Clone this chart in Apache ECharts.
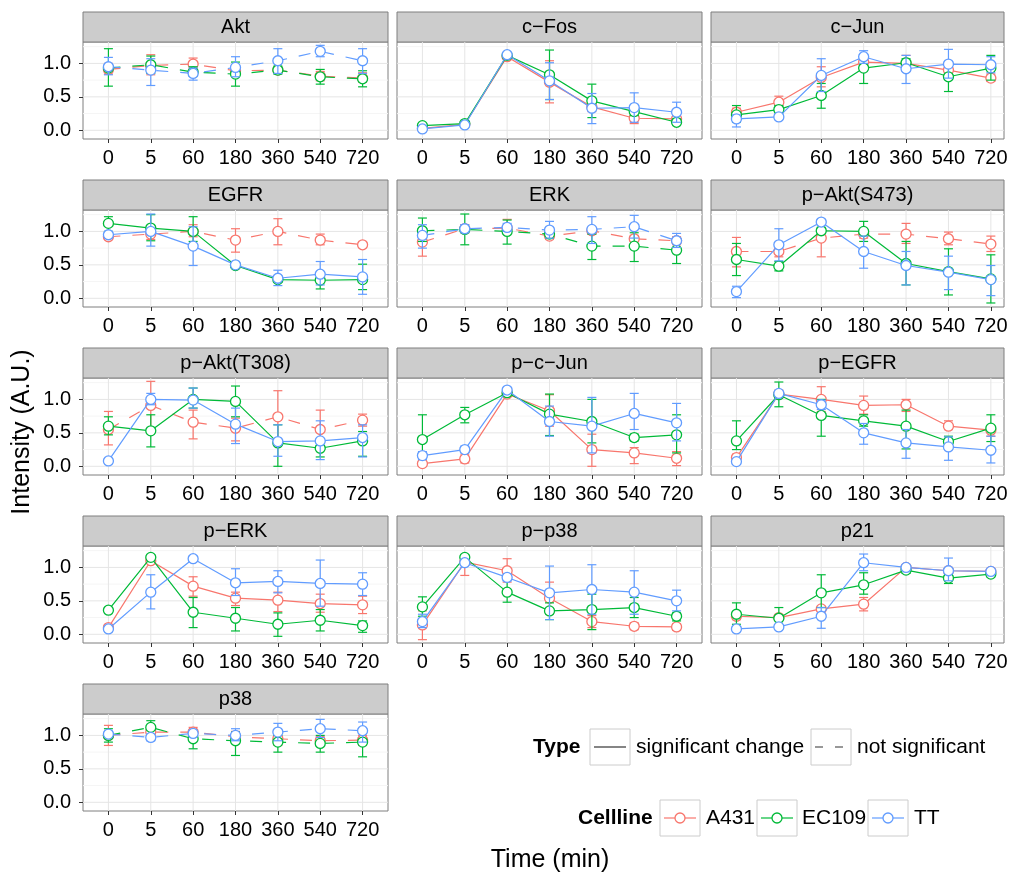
<!DOCTYPE html>
<html>
<head>
<meta charset="utf-8">
<script src="https://cdn.jsdelivr.net/npm/echarts@6/dist/echarts.min.js"></script>
<style>
html, body { margin: 0; padding: 0; background: #fff; }
#main { width: 1011px; height: 877px; }
</style>
</head>
<body>
<div id="main"></div>
<script>
var times = ['0', '5', '60', '180', '360', '540', '720'];
var cellLines = ['A431', 'EC109', 'TT'];
var colors = ['#F8766D', '#00BA38', '#619CFF'];
var proteins = ['Akt', 'c−Fos', 'c−Jun', 'EGFR', 'ERK', 'p−Akt(S473)', 'p−Akt(T308)',
    'p−c−Jun', 'p−EGFR', 'p−ERK', 'p−p38', 'p21', 'p38'];
var yTicks = [0, 0.5, 1];
var yMinor = [0.25, 0.75, 1.25];

// rows: A431, EC109, TT
var aktMean = [[0.91, 0.97, 0.99, 0.89, 0.90, 0.81, 0.78], [0.93, 0.98, 0.87, 0.84, 0.90, 0.80, 0.77], [0.95, 0.90, 0.85, 0.94, 1.04, 1.18, 1.04]];
var aktLow = [[0.84, 0.83, 0.93, 0.84, 0.86, 0.74, 0.72], [0.66, 0.85, 0.81, 0.66, 0.84, 0.69, 0.65], [0.83, 0.67, 0.75, 0.80, 0.85, 1.10, 0.85]];
var aktHigh = [[1.00, 1.13, 1.08, 0.96, 0.94, 0.88, 0.86], [1.22, 1.11, 0.95, 1.02, 0.96, 0.91, 0.89], [1.09, 1.07, 0.93, 1.10, 1.22, 1.27, 1.22]];

var cfosMean = [[0.03, 0.09, 1.10, 0.72, 0.35, 0.18, 0.17], [0.07, 0.10, 1.12, 0.83, 0.44, 0.28, 0.12], [0.02, 0.08, 1.13, 0.74, 0.33, 0.34, 0.27]];
var cfosLow = [[0.00, 0.06, 1.07, 0.41, 0.28, 0.10, 0.12], [0.04, 0.07, 1.09, 0.46, 0.19, 0.22, 0.08], [0.00, 0.05, 1.10, 0.46, 0.10, 0.12, 0.12]];
var cfosHigh = [[0.06, 0.12, 1.13, 1.04, 0.42, 0.25, 0.22], [0.10, 0.13, 1.15, 1.20, 0.69, 0.34, 0.17], [0.05, 0.11, 1.16, 1.01, 0.55, 0.56, 0.42]];

var cjunMean = [[0.27, 0.42, 0.79, 1.02, 1.00, 0.90, 0.78], [0.23, 0.31, 0.52, 0.93, 1.01, 0.80, 0.93], [0.17, 0.20, 0.82, 1.10, 0.92, 0.99, 0.98]];
var cjunLow = [[0.22, 0.36, 0.65, 0.96, 0.88, 0.85, 0.73], [0.12, 0.26, 0.33, 0.70, 0.95, 0.58, 0.75], [0.05, 0.16, 0.58, 1.00, 0.70, 0.78, 0.86]];
var cjunHigh = [[0.33, 0.51, 0.95, 1.08, 1.12, 0.96, 0.84], [0.37, 0.37, 0.70, 1.08, 1.07, 1.00, 1.12], [0.23, 0.24, 1.07, 1.19, 1.12, 1.21, 1.10]];

var egfrMean = [[0.92, 0.96, 1.00, 0.87, 1.00, 0.87, 0.80], [1.12, 1.05, 1.00, 0.49, 0.28, 0.27, 0.28], [0.95, 1.00, 0.78, 0.50, 0.30, 0.36, 0.32]];
var egfrLow = [[0.88, 0.88, 0.92, 0.69, 0.80, 0.80, 0.76], [1.00, 0.86, 0.85, 0.46, 0.24, 0.14, 0.13], [0.90, 0.78, 0.49, 0.46, 0.19, 0.20, 0.06]];
var egfrHigh = [[0.97, 1.03, 1.10, 1.04, 1.19, 0.96, 0.84], [1.22, 1.25, 1.22, 0.53, 0.33, 0.34, 0.51], [1.00, 1.26, 1.07, 0.54, 0.42, 0.55, 0.58]];

var erkMean = [[0.84, 1.04, 1.05, 0.93, 1.01, 0.89, 0.86], [1.01, 1.03, 1.00, 0.96, 0.78, 0.78, 0.72], [0.94, 1.04, 1.06, 1.02, 1.03, 1.07, 0.86]];
var erkLow = [[0.63, 0.98, 0.98, 0.88, 0.96, 0.85, 0.80], [0.85, 0.80, 0.81, 0.90, 0.58, 0.55, 0.52], [0.75, 0.98, 1.00, 0.90, 0.82, 0.90, 0.76]];
var erkHigh = [[1.00, 1.10, 1.18, 0.98, 1.06, 0.94, 0.92], [1.20, 1.26, 1.17, 1.02, 0.96, 0.98, 0.90], [1.10, 1.10, 1.12, 1.15, 1.22, 1.24, 0.97]];

var s473Mean = [[0.70, 0.70, 0.90, 0.96, 0.96, 0.89, 0.81], [0.58, 0.48, 1.01, 1.00, 0.52, 0.40, 0.29], [0.10, 0.80, 1.14, 0.70, 0.49, 0.39, 0.28]];
var s473Low = [[0.47, 0.62, 0.62, 0.90, 0.82, 0.80, 0.70], [0.34, 0.41, 0.97, 0.85, 0.20, 0.05, -0.07], [0.01, 0.56, 1.10, 0.45, 0.20, 0.13, 0.04]];
var s473High = [[0.91, 0.78, 1.10, 1.02, 1.12, 0.99, 0.93], [0.82, 0.55, 1.06, 1.15, 0.85, 0.74, 0.65], [0.18, 1.04, 1.18, 0.93, 0.70, 0.63, 0.49]];

var t308Mean = [[0.55, 0.91, 0.66, 0.57, 0.74, 0.55, 0.69], [0.60, 0.53, 1.00, 0.97, 0.35, 0.27, 0.38], [0.08, 1.00, 0.99, 0.63, 0.37, 0.38, 0.43]];
var t308Low = [[0.32, 0.55, 0.41, 0.38, 0.35, 0.30, 0.60], [0.47, 0.29, 0.87, 0.74, 0.00, 0.14, 0.15], [0.06, 0.92, 0.87, 0.34, 0.15, 0.10, 0.14]];
var t308High = [[0.82, 1.27, 0.84, 0.72, 1.13, 0.84, 0.78], [0.74, 0.77, 1.17, 1.20, 0.62, 0.40, 0.52], [0.10, 1.09, 1.17, 0.87, 0.62, 0.68, 0.62]];

var pcjunMean = [[0.04, 0.11, 1.08, 0.83, 0.25, 0.20, 0.12], [0.40, 0.77, 1.10, 0.78, 0.67, 0.43, 0.47], [0.16, 0.25, 1.14, 0.67, 0.60, 0.79, 0.65]];
var pcjunLow = [[0.00, 0.05, 1.05, 0.60, 0.00, 0.04, 0.01], [0.20, 0.65, 1.07, 0.46, 0.35, 0.38, 0.20], [0.10, 0.20, 1.11, 0.45, 0.20, 0.55, 0.38]];
var pcjunHigh = [[0.08, 0.17, 1.11, 1.07, 0.48, 0.28, 0.22], [0.77, 0.88, 1.13, 1.08, 1.00, 0.48, 0.77], [0.22, 0.30, 1.17, 0.90, 1.03, 1.09, 0.94]];

var pegfrMean = [[0.13, 1.08, 1.00, 0.91, 0.92, 0.60, 0.54], [0.38, 1.07, 0.76, 0.68, 0.60, 0.37, 0.57], [0.07, 1.09, 0.92, 0.50, 0.35, 0.29, 0.24]];
var pegfrLow = [[0.09, 1.02, 0.82, 0.78, 0.82, 0.55, 0.45], [0.25, 0.89, 0.45, 0.60, 0.26, 0.30, 0.37], [0.03, 1.05, 0.85, 0.33, 0.12, 0.09, 0.05]];
var pegfrHigh = [[0.18, 1.14, 1.19, 1.05, 1.00, 0.68, 0.60], [0.68, 1.26, 1.00, 0.77, 0.84, 0.45, 0.77], [0.11, 1.13, 0.99, 0.64, 0.55, 0.44, 0.45]];

var perkMean = [[0.10, 1.10, 0.72, 0.54, 0.51, 0.46, 0.44], [0.36, 1.15, 0.33, 0.24, 0.15, 0.21, 0.13], [0.08, 0.63, 1.13, 0.77, 0.79, 0.76, 0.75]];
var perkLow = [[0.06, 1.06, 0.57, 0.43, 0.34, 0.33, 0.31], [0.32, 1.11, 0.10, 0.05, -0.03, 0.05, 0.03], [0.04, 0.38, 1.09, 0.58, 0.62, 0.42, 0.58]];
var perkHigh = [[0.14, 1.14, 0.86, 0.63, 0.63, 0.60, 0.57], [0.40, 1.19, 0.55, 0.40, 0.32, 0.37, 0.20], [0.12, 0.89, 1.17, 0.98, 0.95, 1.11, 0.92]];

var pp38Mean = [[0.14, 1.08, 0.95, 0.54, 0.19, 0.12, 0.11], [0.41, 1.15, 0.63, 0.35, 0.37, 0.40, 0.27], [0.19, 1.07, 0.85, 0.62, 0.67, 0.63, 0.50]];
var pp38Low = [[-0.08, 0.88, 0.78, 0.30, 0.10, 0.07, 0.06], [0.27, 1.11, 0.48, 0.22, 0.07, 0.25, 0.20], [0.10, 1.03, 0.80, 0.22, 0.30, 0.30, 0.35]];
var pp38High = [[0.35, 1.15, 1.13, 0.78, 0.28, 0.17, 0.16], [0.56, 1.19, 0.85, 0.47, 0.60, 0.55, 0.32], [0.30, 1.11, 0.90, 1.02, 1.04, 0.95, 0.66]];

var p21Mean = [[0.27, 0.25, 0.38, 0.45, 1.00, 0.95, 0.94], [0.30, 0.24, 0.62, 0.74, 0.96, 0.84, 0.90], [0.08, 0.11, 0.27, 1.07, 1.00, 0.95, 0.94]];
var p21Low = [[0.22, 0.21, 0.34, 0.35, 0.96, 0.91, 0.90], [0.15, 0.10, 0.40, 0.60, 0.91, 0.76, 0.86], [0.05, 0.08, 0.09, 0.95, 0.97, 0.80, 0.91]];
var p21High = [[0.32, 0.29, 0.42, 0.55, 1.04, 0.99, 0.98], [0.47, 0.40, 0.89, 0.92, 1.01, 0.90, 0.94], [0.11, 0.14, 0.40, 1.20, 1.03, 1.14, 0.97]];

var p38Mean = [[1.00, 1.05, 1.05, 0.98, 0.95, 0.92, 0.93], [1.00, 1.12, 0.95, 0.92, 0.90, 0.88, 0.90], [1.02, 0.97, 1.03, 1.00, 1.05, 1.10, 1.07]];
var p38Low = [[0.85, 0.95, 0.95, 0.90, 0.85, 0.85, 0.85], [0.90, 1.00, 0.80, 0.70, 0.75, 0.75, 0.68], [0.98, 0.92, 0.98, 0.92, 0.92, 0.97, 0.90]];
var p38High = [[1.15, 1.15, 1.12, 1.06, 1.05, 0.98, 1.00], [1.10, 1.22, 1.05, 1.05, 1.00, 1.00, 1.05], [1.06, 1.02, 1.08, 1.10, 1.18, 1.24, 1.20]];

// significant change = solid, not significant = dashed (A431, EC109, TT)
var lineTypes = [
    ['dashed', 'dashed', 'dashed'],
    ['solid', 'solid', 'solid'],
    ['solid', 'solid', 'solid'],
    ['dashed', 'solid', 'solid'],
    ['dashed', 'dashed', 'dashed'],
    ['dashed', 'solid', 'solid'],
    ['dashed', 'solid', 'solid'],
    ['solid', 'solid', 'solid'],
    ['solid', 'solid', 'solid'],
    ['solid', 'solid', 'solid'],
    ['solid', 'solid', 'solid'],
    ['solid', 'solid', 'solid'],
    ['dashed', 'dashed', 'dashed']
];

var means = [aktMean, cfosMean, cjunMean, egfrMean, erkMean, s473Mean, t308Mean, pcjunMean, pegfrMean, perkMean, pp38Mean, p21Mean, p38Mean];
var lows = [aktLow, cfosLow, cjunLow, egfrLow, erkLow, s473Low, t308Low, pcjunLow, pegfrLow, perkLow, pp38Low, p21Low, p38Low];
var highs = [aktHigh, cfosHigh, cjunHigh, egfrHigh, erkHigh, s473High, t308High, pcjunHigh, pegfrHigh, perkHigh, pp38High, p21High, p38High];

var FONT = '"Liberation Sans", Arial, Helvetica, sans-serif';
var yMin = -0.13, yMax = 1.32, xMin = -0.6;
var colLeft = [83, 397, 711];
var colWidth = [305, 305, 293];
var colXMax = [6.6, 6.6, 6.31];
var dashPattern = [12, 12];
var tickFont = 20;

var grids = [], xAxes = [], yAxes = [], series = [], graphics = [];

proteins.forEach(function (name, p) {
    var r = Math.floor(p / 3), c = p % 3;
    var left = colLeft[c], top = 42 + 168 * r, w = colWidth[c], h = 97;
    var xMax = colXMax[c];
    grids.push({
        left: left, top: top, width: w, height: h,
        show: true, backgroundColor: '#fff', borderColor: '#7F7F7F', borderWidth: 1
    });
    xAxes.push({
        gridIndex: p, type: 'value', min: xMin, max: xMax,
        axisLine: { show: false, onZero: false },
        splitLine: { show: false },
        axisTick: { show: true, customValues: [0, 1, 2, 3, 4, 5, 6], length: 4, lineStyle: { color: '#333', width: 1 } },
        axisLabel: {
            customValues: [0, 1, 2, 3, 4, 5, 6], margin: 9, fontSize: tickFont, color: '#000', fontFamily: FONT,
            formatter: function (v) { return times[Math.round(v)]; }
        }
    });
    yAxes.push({
        gridIndex: p, type: 'value', min: yMin, max: yMax,
        axisLine: { show: false, onZero: false },
        splitLine: { show: false },
        axisTick: { show: c === 0, customValues: yTicks, length: 4, lineStyle: { color: '#333', width: 1 } },
        axisLabel: {
            show: c === 0,
            customValues: yTicks, margin: 12, fontSize: tickFont, color: '#000', fontFamily: FONT,
            formatter: function (v) { return v.toFixed(1); }
        }
    });

    // panel grid lines
    var gl = [];
    yMinor.forEach(function (v) { gl.push([0, v, 2]); });
    yTicks.forEach(function (v) { gl.push([0, v, 1]); });
    times.forEach(function (t, i) { gl.push([i, 0, 0]); });
    series.push({
        type: 'custom', xAxisIndex: p, yAxisIndex: p, silent: true, z: 1,
        data: gl, encode: { x: 0, y: 1 },
        renderItem: (function (xm) {
            return function (params, api) {
                var kind = api.value(2), a, b;
                if (kind === 0) {
                    a = api.coord([api.value(0), yMin]); b = api.coord([api.value(0), yMax]);
                } else {
                    a = api.coord([xMin, api.value(1)]); b = api.coord([xm, api.value(1)]);
                }
                return {
                    type: 'line', shape: { x1: a[0], y1: a[1], x2: b[0], y2: b[1] },
                    style: { stroke: kind === 2 ? '#F5F5F5' : '#E5E5E5', lineWidth: 1 }
                };
            };
        })(xMax)
    });

    cellLines.forEach(function (cl, k) {
        var err = times.map(function (t, i) { return [i, lows[p][k][i], highs[p][k][i]]; });
        series.push({
            type: 'custom', name: cl, xAxisIndex: p, yAxisIndex: p, silent: true, z: 2 + k * 2,
            data: err, encode: { x: 0, y: [1, 2] },
            renderItem: (function (col) {
                return function (params, api) {
                    var x = api.value(0);
                    var t = api.coord([x, api.value(2)]);
                    var b = api.coord([x, api.value(1)]);
                    var hw = 4.5;
                    var st = { stroke: col, lineWidth: 1.2 };
                    return {
                        type: 'group', children: [
                            { type: 'line', shape: { x1: t[0], y1: t[1], x2: b[0], y2: b[1] }, style: st },
                            { type: 'line', shape: { x1: t[0] - hw, y1: t[1], x2: t[0] + hw, y2: t[1] }, style: st },
                            { type: 'line', shape: { x1: b[0] - hw, y1: b[1], x2: b[0] + hw, y2: b[1] }, style: st }
                        ]
                    };
                };
            })(colors[k])
        });
        series.push({
            type: 'line', name: cl, xAxisIndex: p, yAxisIndex: p, silent: true, z: 3 + k * 2,
            data: means[p][k].map(function (v, i) { return [i, v]; }),
            symbol: 'circle', symbolSize: 10, showSymbol: true,
            itemStyle: { color: '#fff', borderColor: colors[k], borderWidth: 1.3 },
            lineStyle: { color: colors[k], width: 1.2, type: lineTypes[p][k] === 'dashed' ? dashPattern : 'solid' },
            animation: false
        });
    });

    // strip
    graphics.push({
        type: 'rect', shape: { x: left, y: top - 30, width: w, height: 30 },
        style: { fill: '#CCCCCC', stroke: '#7F7F7F', lineWidth: 1 }
    });
    graphics.push({
        type: 'text', x: left + w / 2, y: top - 15,
        style: { text: name, font: '20px ' + FONT, fill: '#000', align: 'center', verticalAlign: 'middle' }
    });
});

// axis titles
graphics.push({
    type: 'text', x: 22, y: 432, rotation: Math.PI / 2,
    style: { text: 'Intensity (A.U.)', font: '25px ' + FONT, fill: '#000', align: 'center', verticalAlign: 'middle' }
});
graphics.push({
    type: 'text', x: 550, y: 860,
    style: { text: 'Time (min)', font: '25px ' + FONT, fill: '#000', align: 'center', verticalAlign: 'middle' }
});

// legend: Type
function keyBox(x, y) {
    graphics.push({ type: 'rect', shape: { x: x, y: y, width: 40, height: 36 }, style: { fill: '#fff', stroke: '#CCCCCC', lineWidth: 1 } });
}
function legendText(t, x, y, bold) {
    graphics.push({ type: 'text', x: x, y: y, style: { text: t, font: (bold ? 'bold ' : '') + '21px ' + FONT, fill: '#000', align: 'left', verticalAlign: 'middle' } });
}
legendText('Type', 533, 747, true);
keyBox(590, 729);
graphics.push({ type: 'line', shape: { x1: 594, y1: 747, x2: 626, y2: 747 }, style: { stroke: '#333', lineWidth: 1.2 } });
legendText('significant change', 636, 747, false);
keyBox(811, 729);
graphics.push({ type: 'line', shape: { x1: 815, y1: 747, x2: 847, y2: 747 }, style: { stroke: '#333', lineWidth: 1.2, lineDash: [8, 12] } });
legendText('not significant', 857, 747, false);

// legend: Cellline
legendText('Cellline', 578, 818, true);
var keyX = [660, 757, 868], textX = [706, 802, 914];
cellLines.forEach(function (cl, k) {
    keyBox(keyX[k], 800);
    graphics.push({ type: 'line', shape: { x1: keyX[k] + 4, y1: 818, x2: keyX[k] + 36, y2: 818 }, style: { stroke: colors[k], lineWidth: 1.2 } });
    graphics.push({ type: 'circle', shape: { cx: keyX[k] + 20, cy: 818, r: 5 }, style: { fill: '#fff', stroke: colors[k], lineWidth: 1.3 } });
    legendText(cl, textX[k], 818, false);
});

var chart = echarts.init(document.getElementById('main'), null, { renderer: 'canvas' });
chart.setOption({
    animation: false,
    backgroundColor: '#fff',
    textStyle: { fontFamily: FONT },
    grid: grids,
    xAxis: xAxes,
    yAxis: yAxes,
    series: series,
    graphic: graphics
});
</script>
</body>
</html>
